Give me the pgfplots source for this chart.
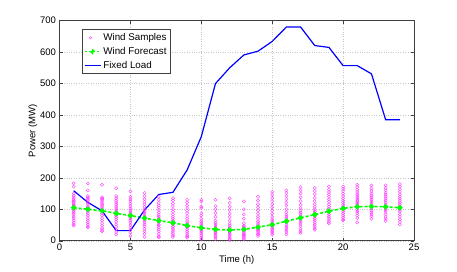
\documentclass[border=0pt]{standalone}
\usepackage{fontspec}
\setmainfont{Liberation Sans}
\usepackage{pgfplots}
\pgfplotsset{compat=1.18}
\definecolor{axgray}{rgb}{0.25,0.25,0.25}
\definecolor{wmag}{rgb}{1,0.2,1}
\begin{document}
\begin{tikzpicture}
\begin{axis}[
  at={(0pt,0pt)}, anchor=south west,
  scale only axis, width=354.5pt, height=220pt,
  xmin=0, xmax=25, ymin=0, ymax=700,
  xtick={0,5,10,15,20,25}, ytick={0,100,...,700},
  /pgf/number format/assume math mode=true,
  ticklabel style={font=\fontsize{9.5}{11}\selectfont, text=black},
  label style={font=\fontsize{9.5}{11}\selectfont},
  xlabel={Time (h)}, ylabel={Power (MW)},
  xlabel style={yshift=2pt}, ylabel style={yshift=-4pt},
  axis line style={axgray, line width=0.5pt},
  tick style={axgray, line width=0.4pt},
  tick align=inside, major tick length=3pt,
  grid=major, major grid style={gray!45, dotted, line width=0.4pt},
  legend style={at={(0.0626,0.961)}, anchor=north west, font=\fontsize{9.8}{11}\selectfont,
    draw=axgray, inner sep=2pt, row sep=1.2pt,
    legend cell align=left},
]
\addplot[only marks, mark=o, mark size=1.6pt, wmag, line width=0.35pt,
  legend image code/.code={\draw[only marks, mark=o, mark size=1.2pt, wmag, line width=0.35pt] plot coordinates {(0.2cm,0pt)};}]
coordinates {
(1,183)(1,172)(1,150)(1,143)(1,138)(1,133)(1,128)(1,124)(1,120)(1,115)(1,112)(1,108)(1,104)(1,100)(1,95)(1,90)(1,85)(1,78)(1,72)(1,65)(1,58)(1,52)(1,48)
(2,182)(2,160)(2,142)(2,138)(2,133)(2,128)(2,122)(2,117)(2,110)(2,105)(2,98)(2,92)(2,86)(2,80)(2,72)(2,65)(2,58)(2,52)(2,46)(2,42)
(3,178)(3,138)(3,134)(3,130)(3,126)(3,120)(3,115)(3,110)(3,104)(3,98)(3,92)(3,86)(3,80)(3,72)(3,64)(3,56)(3,48)(3,40)(3,34)(3,30)
(4,167)(4,142)(4,135)(4,128)(4,122)(4,116)(4,110)(4,104)(4,98)(4,92)(4,86)(4,80)(4,74)(4,68)(4,60)(4,52)(4,44)(4,36)(4,28)(4,20)
(5,157)(5,140)(5,132)(5,126)(5,118)(5,110)(5,103)(5,97)(5,91)(5,86)(5,80)(5,75)(5,70)(5,64)(5,58)(5,50)(5,42)(5,34)(5,26)(5,15)
(6,152)(6,142)(6,132)(6,124)(6,116)(6,108)(6,100)(6,94)(6,88)(6,82)(6,76)(6,70)(6,64)(6,58)(6,52)(6,46)(6,38)(6,30)(6,22)(6,12)
(7,140)(7,130)(7,120)(7,112)(7,106)(7,98)(7,90)(7,82)(7,76)(7,70)(7,64)(7,58)(7,52)(7,48)(7,42)(7,36)(7,30)(7,22)(7,14)(7,10)
(8,135)(8,128)(8,118)(8,110)(8,100)(8,92)(8,84)(8,76)(8,70)(8,64)(8,58)(8,52)(8,46)(8,40)(8,34)(8,28)(8,22)(8,16)(8,12)
(9,130)(9,122)(9,112)(9,104)(9,96)(9,88)(9,78)(9,70)(9,62)(9,56)(9,50)(9,46)(9,42)(9,36)(9,30)(9,24)(9,18)(9,14)(9,10)
(10,130)(10,125)(10,108)(10,104)(10,88)(10,80)(10,70)(10,62)(10,56)(10,50)(10,45)(10,40)(10,36)(10,32)(10,28)(10,22)(10,16)(10,10)(10,5)
(11,130)(11,110)(11,100)(11,88)(11,76)(11,64)(11,56)(11,50)(11,44)(11,40)(11,36)(11,32)(11,28)(11,24)(11,20)(11,15)(11,10)(11,5)
(12,135)(12,120)(12,108)(12,98)(12,86)(12,76)(12,64)(12,54)(12,48)(12,42)(12,36)(12,32)(12,28)(12,24)(12,20)(12,15)(12,10)(12,6)(12,3)
(13,125)(13,100)(13,84)(13,70)(13,56)(13,48)(13,44)(13,40)(13,36)(13,32)(13,28)(13,24)(13,20)(13,16)(13,12)(13,8)(13,5)
(14,140)(14,128)(14,116)(14,106)(14,96)(14,86)(14,78)(14,70)(14,62)(14,56)(14,50)(14,45)(14,40)(14,36)(14,32)(14,28)(14,24)(14,20)(14,15)
(15,155)(15,146)(15,136)(15,126)(15,116)(15,106)(15,96)(15,86)(15,76)(15,68)(15,62)(15,56)(15,50)(15,45)(15,40)(15,35)(15,30)(15,25)(15,20)
(16,160)(16,152)(16,142)(16,132)(16,122)(16,112)(16,100)(16,90)(16,82)(16,76)(16,70)(16,64)(16,58)(16,52)(16,46)(16,40)(16,34)(16,28)(16,20)
(17,170)(17,160)(17,150)(17,138)(17,126)(17,114)(17,104)(17,96)(17,90)(17,84)(17,78)(17,72)(17,66)(17,60)(17,54)(17,46)(17,38)(17,30)(17,25)
(18,168)(18,158)(18,148)(18,136)(18,126)(18,116)(18,108)(18,100)(18,94)(18,88)(18,82)(18,76)(18,70)(18,64)(18,58)(18,52)(18,46)(18,40)(18,35)
(19,172)(19,162)(19,155)(19,148)(19,140)(19,132)(19,124)(19,116)(19,108)(19,102)(19,96)(19,90)(19,84)(19,78)(19,72)(19,66)(19,60)(19,55)
(20,172)(20,165)(20,158)(20,150)(20,142)(20,135)(20,128)(20,122)(20,116)(20,110)(20,104)(20,98)(20,92)(20,86)(20,80)(20,74)(20,68)(20,65)
(21,178)(21,170)(21,162)(21,155)(21,148)(21,142)(21,136)(21,130)(21,126)(21,122)(21,118)(21,114)(21,110)(21,106)(21,100)(21,94)(21,88)(21,80)(21,72)(21,58)
(22,176)(22,166)(22,158)(22,150)(22,144)(22,138)(22,132)(22,126)(22,120)(22,114)(22,108)(22,102)(22,96)(22,90)(22,84)(22,78)(22,70)
(23,176)(23,168)(23,160)(23,152)(23,146)(23,140)(23,134)(23,128)(23,122)(23,116)(23,110)(23,104)(23,98)(23,92)(23,84)(23,76)(23,70)(23,63)
(24,180)(24,172)(24,164)(24,156)(24,148)(24,140)(24,134)(24,128)(24,122)(24,116)(24,110)(24,104)(24,98)(24,92)(24,84)(24,76)(24,68)(24,60)(24,52)
};
\addlegendentry{Wind Samples}
\addplot[green, dash pattern=on 3pt off 2pt, line width=1.6pt, mark=*, mark size=1.8pt, mark options={solid},
  legend image code/.code={\draw[green, dash pattern=on 2.5pt off 1.5pt, line width=1.5pt] (0cm,0cm) -- (0.56cm,0cm); \fill[green] (0.28cm,0cm) circle (1.8pt);}]
coordinates {
(1,105)(2,100)(3,95)(4,87)(5,80)(6,72)(7,64)(8,57)(9,48)(10,41)(11,36)(12,34)(13,36)(14,43)(15,51)(16,62)(17,73)(18,83)(19,94)(20,103)(21,108)(22,109)(23,108)(24,105)
};
\addlegendentry{Wind Forecast}
\addplot[blue, line width=1.2pt,
  legend image code/.code={\draw[blue, line width=1.2pt] (0cm,0cm) -- (0.56cm,0cm);}]
coordinates {
(1,159)(2,122)(3,95)(4,32)(5,32)(6,98)(7,147)(8,154)(9,225)(10,331)(11,500)(12,550)(13,591)(14,603)(15,634)(16,680)(17,680)(18,621)(19,615)(20,557)(21,557)(22,531)(23,385)(24,385)
};
\addlegendentry{Fixed Load}
\end{axis}
\path (-59.5pt,-30.3pt) rectangle (397.5pt,240.7pt);
\end{tikzpicture}
\end{document}
